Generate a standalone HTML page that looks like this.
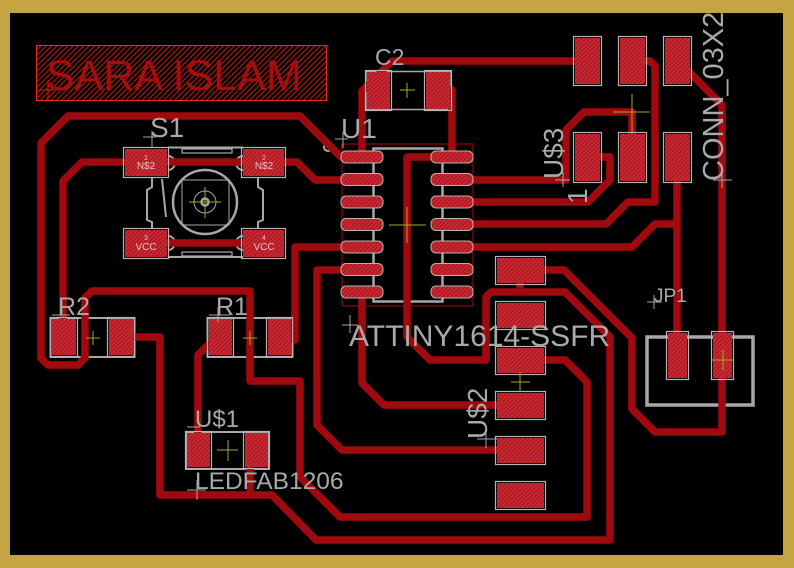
<!DOCTYPE html>
<html><head><meta charset="utf-8"><style>html,body{margin:0;padding:0;background:#000;}svg{display:block}</style></head>
<body>
<svg width="794" height="568" viewBox="0 0 794 568" xmlns="http://www.w3.org/2000/svg" font-family="'Liberation Sans', sans-serif">
<defs>
<pattern id="ph" width="3" height="3" patternUnits="userSpaceOnUse" patternTransform="rotate(45)">
<rect width="3" height="3" fill="#c92a33"/><rect width="1" height="3" fill="#a3141c"/>
</pattern>
<pattern id="sh" width="3.8" height="3.8" patternUnits="userSpaceOnUse" patternTransform="rotate(45)">
<rect width="1" height="3.8" fill="#c8180f"/>
</pattern>
</defs>
<!-- board -->
<rect width="794" height="568" fill="#c5a542"/>
<rect x="10" y="13" width="773" height="542" fill="#000"/>

<!-- SARA ISLAM -->
<rect x="36.5" y="45.5" width="290" height="55" fill="url(#sh)" stroke="#f02a18" stroke-width="1"/>
<text x="46" y="90" font-size="43" fill="#a80c0c">SARA ISLAM</text>
<path d="M38 90H54M48 80V100" stroke="#c81a10" stroke-width="1"/>

<!-- silkscreen bodies -->
<g fill="none" stroke="#a8a8a8">
<rect x="366" y="71.5" width="85" height="38" stroke-width="1.5"/>
<rect x="50.5" y="318" width="84" height="39" stroke-width="2"/>
<rect x="207.5" y="318" width="85" height="39" stroke-width="2"/>
<rect x="186" y="432" width="83" height="37" stroke-width="2"/>
<rect x="373.5" y="148.5" width="69" height="153" stroke-width="2.5"/>
<circle cx="328" cy="147" r="4" stroke-width="2"/>
<rect x="647" y="337" width="106" height="68" stroke-width="3.5"/>
<!-- S1 -->
<path d="M168 147.5H243M168 257H243" stroke-width="2"/>
<rect x="182" y="149" width="50" height="4" stroke-width="1.2"/>
<rect x="182" y="252" width="50" height="4" stroke-width="1.2"/>
<circle cx="205" cy="202" r="32" stroke-width="2.5"/>
<rect x="182" y="180" width="47" height="45" stroke-width="1"/>
<circle cx="205" cy="202" r="11" stroke-width="1"/>
<circle cx="205" cy="202" r="3.5" stroke-width="2.5"/>
<path d="M152 177V187L147 190V220L152 222V228M258 177V187L263 190V220L258 222V228" stroke-width="2"/>
<path d="M162 179L166 217" stroke-width="2"/>
<path d="M168 156A7 7 0 0 1 168 170M243 156A7 7 0 0 0 243 170M168 236A7 7 0 0 1 168 250M243 236A7 7 0 0 0 243 250" stroke-width="2"/>
</g>
<rect x="342" y="144" width="131" height="162" fill="none" stroke="#b00808" stroke-width="1"/>

<!-- traces -->
<g fill="none" stroke="#a00a0e" stroke-width="7.5" stroke-linejoin="round" stroke-linecap="round">
<polyline points="587,61 392,61 362,91 362,157"/>
<polyline points="341,157 300,116 68,116 41,143 41,358 48,365 78,365 85,358 85,298 92,291 250,291 250,381 300,381 300,477 340,517 587,517 587,382 565,360 521,360"/>
<polyline points="146,162 82,162 63,181 63,337"/>
<polyline points="146,162 297,162 315,180 360,180"/>
<polyline points="146,243 264,243"/>
<polyline points="295,340 295,247 360,247"/>
<polyline points="360,270 317,270 317,425 342,450 520,450"/>
<polyline points="362,292 362,383 384,405 520,405"/>
<polyline points="452,90 452,157 407,157 407,337 430,360 486,360 486,297 491,292 565,292 610,337 610,540 316,540 272,495 160,495 160,337 121,337"/>
<polyline points="520,283 520,292"/>
<polyline points="212,341 198,355 198,450"/>
<polyline points="250,455 250,495"/>
<polyline points="632,61 650,61 655,66 655,202 628,202 606,224 455,224"/>
<polyline points="455,202 588,202 610,180 610,157 588,157"/>
<polyline points="455,180 566,180 566,130 584,112 632,112 632,150"/>
<polyline points="455,247 632,247 655,224 677,224"/>
<polyline points="677,157 677,355"/>
<polyline points="677,60 722,105 722,432 655,432 632,409 632,338 564,270 521,270"/>
</g>

<!-- pad outlines -->
<g fill="none" stroke="#b5b5b5" stroke-width="1.2">
<rect x="365.5" y="70.5" width="26" height="40"/><rect x="424.5" y="70.5" width="27" height="40"/>
<rect x="123.5" y="147.5" width="45" height="30"/><rect x="241.5" y="147.5" width="44" height="30"/>
<rect x="123.5" y="228.5" width="45" height="30"/><rect x="241.5" y="228.5" width="44" height="30"/>
<rect x="50.5" y="317.5" width="27" height="39"/><rect x="107.5" y="317.5" width="27" height="39"/>
<rect x="207.5" y="317.5" width="26" height="39"/><rect x="266.5" y="317.5" width="26" height="39"/>
<rect x="185.5" y="431.5" width="26" height="37"/><rect x="243.5" y="431.5" width="26" height="37"/>
<rect x="495.5" y="256.5" width="50" height="28"/><rect x="495.5" y="301.5" width="50" height="28"/>
<rect x="495.5" y="346.5" width="50" height="28"/><rect x="495.5" y="391.5" width="50" height="28"/>
<rect x="495.5" y="436.5" width="50" height="28"/><rect x="495.5" y="481.5" width="50" height="28"/>
<rect x="573.5" y="36.5" width="28" height="49"/><rect x="618.5" y="36.5" width="28" height="49"/><rect x="663.5" y="36.5" width="28" height="49"/>
<rect x="573.5" y="132.5" width="28" height="50"/><rect x="618.5" y="132.5" width="28" height="50"/><rect x="663.5" y="132.5" width="28" height="50"/>
<rect x="666.5" y="331.5" width="22" height="48"/><rect x="711.5" y="331.5" width="22" height="48"/>
</g>
<!-- pads -->
<g fill="url(#ph)">
<rect x="367" y="72" width="23" height="37"/><rect x="426" y="72" width="24" height="37"/>
<rect x="125" y="149" width="42" height="27"/><rect x="243" y="149" width="41" height="27"/>
<rect x="125" y="230" width="42" height="27"/><rect x="243" y="230" width="41" height="27"/>
<rect x="52" y="319" width="24" height="36"/><rect x="109" y="319" width="24" height="36"/>
<rect x="209" y="319" width="23" height="36"/><rect x="268" y="319" width="23" height="36"/>
<rect x="187" y="433" width="23" height="34"/><rect x="245" y="433" width="23" height="34"/>
<rect x="497" y="258" width="47" height="25"/><rect x="497" y="303" width="47" height="25"/>
<rect x="497" y="348" width="47" height="25"/><rect x="497" y="393" width="47" height="25"/>
<rect x="497" y="438" width="47" height="25"/><rect x="497" y="483" width="47" height="25"/>
<rect x="575" y="38" width="25" height="46"/><rect x="620" y="38" width="25" height="46"/><rect x="665" y="38" width="25" height="46"/>
<rect x="575" y="134" width="25" height="47"/><rect x="620" y="134" width="25" height="47"/><rect x="665" y="134" width="25" height="47"/>
<rect x="668" y="333" width="19" height="45"/><rect x="713" y="333" width="19" height="45"/>
</g>
<!-- U1 pins -->
<g fill="url(#ph)" stroke="#b5b5b5" stroke-width="1">
<rect x="341" y="151" width="42" height="12" rx="5"/><rect x="341" y="173.5" width="42" height="12" rx="5"/>
<rect x="341" y="196" width="42" height="12" rx="5"/><rect x="341" y="218.5" width="42" height="12" rx="5"/>
<rect x="341" y="241" width="42" height="12" rx="5"/><rect x="341" y="263.5" width="42" height="12" rx="5"/>
<rect x="341" y="286" width="42" height="12" rx="5"/>
<rect x="431" y="151" width="42" height="12" rx="5"/><rect x="431" y="173.5" width="42" height="12" rx="5"/>
<rect x="431" y="196" width="42" height="12" rx="5"/><rect x="431" y="218.5" width="42" height="12" rx="5"/>
<rect x="431" y="241" width="42" height="12" rx="5"/><rect x="431" y="263.5" width="42" height="12" rx="5"/>
<rect x="431" y="286" width="42" height="12" rx="5"/>
</g>

<!-- pad labels S1 -->
<g fill="#e6c0c0" text-anchor="middle">
<text x="146" y="160" font-size="7">1</text><text x="146" y="169" font-size="10">N$2</text>
<text x="264" y="160" font-size="7">2</text><text x="264" y="169" font-size="10">N$2</text>
<text x="146" y="240" font-size="7">3</text><text x="146" y="250" font-size="10">VCC</text>
<text x="264" y="240" font-size="7">4</text><text x="264" y="250" font-size="10">VCC</text>
</g>

<!-- labels -->
<g fill="#a9a9a9">
<text x="375" y="65" font-size="23">C2</text>
<text x="341" y="138" font-size="28">U1</text>
<text x="150" y="137" font-size="28">S1</text>
<text x="58" y="315" font-size="25">R2</text>
<text x="216" y="315" font-size="25">R1</text>
<text x="195" y="427" font-size="24">U$1</text>
<text x="195" y="489" font-size="24.5">LEDFAB1206</text>
<text x="349" y="346" font-size="30">ATTINY1614-SSFR</text>
<text x="654" y="302" font-size="19">JP1</text>
<text x="563" y="179" font-size="28" transform="rotate(-90 563 179)">U$3</text>
<text x="487" y="439" font-size="28" transform="rotate(-90 487 439)">U$2</text>
<text x="723" y="181" font-size="29" transform="rotate(-90 723 181)">CONN_03X2</text>
<text x="587" y="204" font-size="28" transform="rotate(-90 587 204)">1</text>
</g>

<!-- origin crosses -->
<g stroke="#a9a9a9" stroke-width="1" fill="none">
<path d="M143 137H156M152 131V148"/>
<path d="M335 139H348M343 132V148"/>
<path d="M52 315H70"/>
<path d="M209 315H230M218 307V322"/>
<path d="M187 427H200"/>
<path d="M187 490H206M197 480V500"/>
<path d="M342 325H358M350 315V333"/>
<path d="M555 180H570M563 172V187"/>
<path d="M477 439H497M486 430V448"/>
<path d="M713 180H732M722 172V188"/>
<path d="M647 302H662M654 295V309"/>
</g>

<!-- yellow center crosses -->
<g stroke="#a8a828" stroke-width="1" fill="none">
<path d="M400 90H415M407 83V98"/>
<path d="M189 202H221M205 187V218"/>
<path d="M86 338H100M93 331V345"/>
<path d="M243 338H257M250 331V345"/>
<path d="M217 450H238M228 440V461"/>
<path d="M389 225H426M407 207V243"/>
<path d="M511 382H530M520 372V392"/>
<path d="M613 112H650M632 94V132"/>
<path d="M712 360H733M723 350V370"/>
</g>
</svg>
</body></html>
